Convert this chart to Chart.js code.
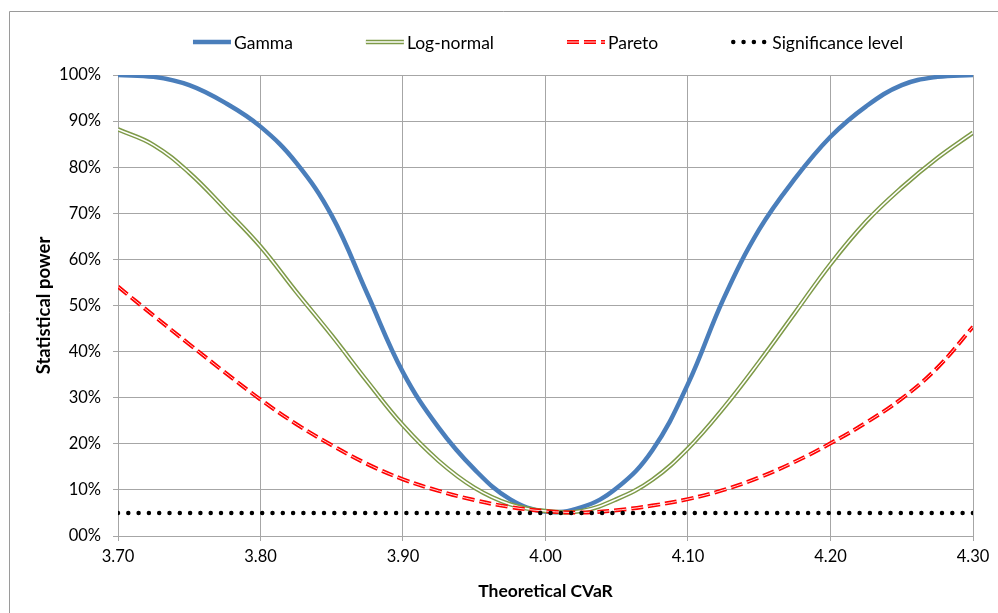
<!DOCTYPE html>
<html>
<head>
<meta charset="utf-8">
<title>Statistical power</title>
<script src="https://cdn.jsdelivr.net/npm/chart.js@4/dist/chart.umd.min.js"></script>
<style>
    html, body { margin: 0; padding: 0; background: #fff; }
    #wrap { width: 998px; height: 613px; }
</style>
</head>
<body>
<div id="wrap"><canvas id="powerChart" width="998" height="613"></canvas></div>
<script>
// theoretical CVaR (x) and power of each test, in %
var cvar = [3.700, 3.725, 3.750, 3.775, 3.800, 3.825, 3.850, 3.875, 3.900, 3.925, 3.950, 3.975, 4.000,
            4.025, 4.050, 4.075, 4.100, 4.125, 4.150, 4.175, 4.200, 4.225, 4.250, 4.275, 4.300];
var gammaPower = [100, 99.6, 97.8, 94.0, 88.8, 81.0, 69.5, 52.5, 35.5, 23.5, 14.5, 8.0, 5.3,
                  6.2, 10.4, 18.6, 33.0, 51.5, 66.5, 77.5, 86.6, 93.2, 97.8, 99.6, 100];
var lognormPower = [88.2, 84.8, 78.8, 71.0, 62.8, 53.0, 43.5, 33.5, 24.0, 16.3, 10.5, 6.9, 5.4,
                    5.4, 8.0, 12.2, 19.0, 27.8, 37.8, 48.4, 59.0, 68.2, 75.6, 82.0, 87.5];
var paretoPower = [54.1, 47.8, 41.6, 35.5, 29.6, 24.3, 19.7, 15.6, 12.3, 9.8, 7.8, 6.3, 5.4,
                   5.1, 5.6, 6.6, 8.0, 10.0, 12.7, 16.1, 20.1, 24.6, 29.8, 36.5, 45.4];
var sigLevel = [5, 5, 5, 5, 5, 5, 5, 5, 5, 5, 5, 5, 5, 5, 5, 5, 5, 5, 5, 5, 5, 5, 5, 5, 5];
var xTicks = [3.7, 3.8, 3.9, 4.0, 4.1, 4.2, 4.3];
var seriesNames = ['Gamma', 'Log-normal', 'Pareto', 'Significance level'];

var FONT = 'Lato, "Open Sans", sans-serif';
var GRID = '#a6a6a6';

function pts(ys) {
    var out = [];
    for (var i = 0; i < cvar.length; i++) {
        out.push({ x: cvar[i], y: ys[i] });
    }
    return out;
}

var RED_DASH = [12, 5];
var DOTS = [0, 10.3];

// line looks, also used for the key
var looks = [
    { outer: '#4a7ebb', width: 4.5 },
    { outer: '#7e9a48', width: 4.5, inner: '#ffffff', innerWidth: 1.5 },
    { outer: '#ff0000', width: 4, inner: '#ffd0d0', innerWidth: 1, dash: RED_DASH },
    { outer: '#000000', width: 4.5, dash: DOTS, cap: 'round' }
];

var datasets = [
    { label: seriesNames[0], data: pts(gammaPower), borderColor: looks[0].outer, borderWidth: looks[0].width, order: 8 },
    { label: seriesNames[1], data: pts(lognormPower), borderColor: looks[1].outer, borderWidth: looks[1].width, order: 7 },
    { label: 'lognorm-inner', data: pts(lognormPower), borderColor: looks[1].inner, borderWidth: looks[1].innerWidth, order: 6 },
    { label: seriesNames[2], data: pts(paretoPower), borderColor: looks[2].outer, borderWidth: looks[2].width, borderDash: RED_DASH, order: 5 },
    { label: 'pareto-inner', data: pts(paretoPower), borderColor: looks[2].inner, borderWidth: looks[2].innerWidth, borderDash: RED_DASH, order: 4 },
    { label: seriesNames[3], data: pts(sigLevel), borderColor: looks[3].outer, borderWidth: looks[3].width, borderDash: DOTS, borderCapStyle: 'round', tension: 0, order: 1 }
];
datasets.forEach(function (d) {
    d.pointRadius = 0;
    d.fill = false;
    if (d.tension === undefined) d.tension = 0.4;
});

// white page plus the thin outer frame
var framePlugin = {
    id: 'frame',
    beforeDraw: function (chart) {
        var c = chart.ctx;
        c.save();
        c.fillStyle = '#ffffff';
        c.fillRect(0, 0, chart.width, chart.height);
        c.strokeStyle = '#9a9a9a';
        c.lineWidth = 1;
        c.beginPath();
        c.moveTo(9.5, chart.height);
        c.lineTo(9.5, 11.5);
        c.lineTo(chart.width, 11.5);
        c.stroke();
        c.restore();
    }
};

// key across the top, drawn like the excel one
var keyPlugin = {
    id: 'seriesKey',
    afterDraw: function (chart) {
        var c = chart.ctx;
        var sampleLen = 38, textGap = 3, itemGap = 73, y = 42;
        c.save();
        c.font = '17.5px ' + FONT;
        c.textBaseline = 'middle';
        c.textAlign = 'left';
        var total = 0;
        var widths = seriesNames.map(function (n) { return c.measureText(n).width; });
        widths.forEach(function (w) { total += sampleLen + textGap + w; });
        total += itemGap * (seriesNames.length - 1);
        var x = 548 - total / 2;
        for (var i = 0; i < seriesNames.length; i++) {
            var lk = looks[i];
            c.lineCap = lk.cap || 'butt';
            c.setLineDash(lk.dash || []);
            c.strokeStyle = lk.outer;
            c.lineWidth = lk.width;
            c.beginPath();
            c.moveTo(x + (lk.cap ? 2 : 0), y);
            c.lineTo(x + sampleLen, y);
            c.stroke();
            if (lk.inner) {
                c.strokeStyle = lk.inner;
                c.lineWidth = lk.innerWidth;
                c.beginPath();
                c.moveTo(x, y);
                c.lineTo(x + sampleLen, y);
                c.stroke();
            }
            c.setLineDash([]);
            c.fillStyle = '#000';
            c.fillText(seriesNames[i], x + sampleLen + textGap, y + 1);
            x += sampleLen + textGap + widths[i] + itemGap;
        }
        c.restore();
    }
};

var myChart = new Chart(document.getElementById('powerChart').getContext('2d'), {
    type: 'line',
    data: { datasets: datasets },
    plugins: [framePlugin, keyPlugin],
    options: {
        responsive: false,
        animation: false,
        layout: { padding: { top: 75, right: 25, left: 0, bottom: 0 } },
        plugins: {
            legend: { display: false },
            tooltip: { enabled: false }
        },
        scales: {
            x: {
                type: 'linear',
                min: 3.7,
                max: 4.3,
                afterBuildTicks: function (axis) {
                    axis.ticks = xTicks.map(function (v) { return { value: v }; });
                },
                afterFit: function (axis) { axis.height = 77; },
                grid: { color: GRID, lineWidth: 1, tickLength: 5, tickColor: GRID },
                border: { color: GRID },
                ticks: {
                    color: '#000',
                    font: { family: FONT, size: 16.5 },
                    padding: 6,
                    maxRotation: 0,
                    callback: function (v) { return Number(v).toFixed(2); }
                },
                title: {
                    display: true,
                    text: 'Theoretical CVaR',
                    color: '#000',
                    font: { family: FONT, size: 17.5, weight: 'bold' },
                    padding: { top: 4, bottom: 11 }
                }
            },
            y: {
                min: 0,
                max: 100,
                afterFit: function (axis) { axis.width = 118; },
                grid: { color: GRID, lineWidth: 1, tickLength: 5, tickColor: GRID },
                border: { color: GRID },
                ticks: {
                    stepSize: 10,
                    color: '#000',
                    font: { family: FONT, size: 16.5 },
                    padding: 12,
                    callback: function (v) { return String(v).padStart(2, '0') + '%'; }
                },
                title: {
                    display: true,
                    text: 'Statistical power',
                    color: '#000',
                    font: { family: FONT, size: 18.5, weight: 'bold' },
                    padding: { top: 33, bottom: 0 }
                }
            }
        }
    }
});
</script>
</body>
</html>
